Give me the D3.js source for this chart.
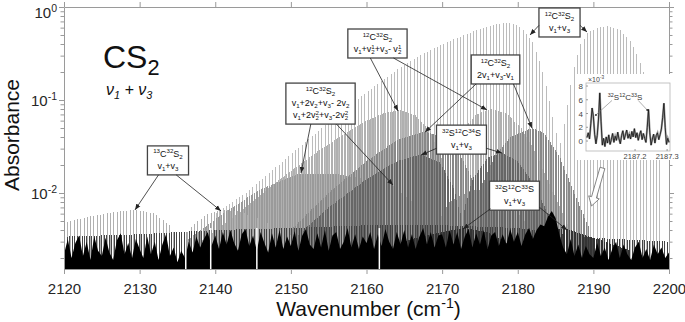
<!DOCTYPE html>
<html>
<head>
<meta charset="utf-8">
<script src="https://cdn.jsdelivr.net/npm/d3@7"></script>
<style>
  body { margin: 0; background: #fff; }
  text { font-family: "Liberation Sans", Arial, sans-serif; }
</style>
</head>
<body>
<svg id="chart" width="685" height="322"></svg>
<script>
// axis ticks
const xTicks = [2120, 2130, 2140, 2150, 2160, 2170, 2180, 2190, 2200];
const yMajor = [1e-2, 1e-1, 1];
const yExp = ["-2", "-1", "0"];
const yMinor = [2e-3, 3e-3, 4e-3, 5e-3, 6e-3, 7e-3, 8e-3, 9e-3,
                2e-2, 3e-2, 4e-2, 5e-2, 6e-2, 7e-2, 8e-2, 9e-2,
                2e-1, 3e-1, 4e-1, 5e-1, 6e-1, 7e-1, 8e-1, 9e-1];

// stick bands: [origin, line spacing] in cm-1, envelopes [wavenumber, absorbance]
const mainBand = [2185.5, 0.436];
const mainP = [[2140, 0.006], [2144, 0.01], [2147, 0.016], [2150, 0.026], [2153, 0.042], [2156, 0.068], [2159, 0.105],
               [2162, 0.16], [2165, 0.24], [2168, 0.33], [2171, 0.43], [2174, 0.54], [2177, 0.65], [2179, 0.68],
               [2180.5, 0.6], [2182, 0.42], [2183.2, 0.22], [2184.3, 0.09], [2185.3, 0.035]];
const mainR = [[2185.6, 0.03], [2186.5, 0.08], [2187.3, 0.2], [2188.2, 0.38], [2189.2, 0.52], [2190.5, 0.6], [2192, 0.62],
               [2193.5, 0.57], [2195, 0.42], [2196, 0.28], [2197, 0.16], [2198, 0.07], [2198.8, 0.03], [2199.2, 0.01]];

const hot1Band = [2170.8, 0.218]; // v1+v2+v3-v2
const hot1P = [[2138, 0.003], [2143, 0.006], [2148, 0.013], [2153, 0.026], [2157, 0.043], [2160, 0.06], [2162.5, 0.073],
               [2164.5, 0.078], [2166.5, 0.068], [2168.5, 0.045], [2170.3, 0.02]];
const hot1R = [[2171.2, 0.02], [2172.5, 0.045], [2174.5, 0.07], [2176.5, 0.08], [2178.5, 0.072], [2180.5, 0.05],
               [2182.5, 0.026], [2184.5, 0.011], [2187, 0.004]];

const hot3Band = [2168.3, 0.218]; // v1+2v2+v3-2v2
const hot3P = [[2136, 0.003], [2141, 0.006], [2146, 0.011], [2151, 0.016], [2156, 0.016], [2160, 0.014], [2163.5, 0.012],
               [2166, 0.008], [2167.8, 0.004]];
const hot3R = [[2168.8, 0.004], [2171, 0.008], [2174, 0.011], [2177, 0.01], [2180, 0.006], [2183, 0.003]];

const c13Band = [2135.3, 0.436]; // 13C32S2
const c13P = [[2120, 0.0048], [2123, 0.0055], [2126.5, 0.0062], [2129.4, 0.0066], [2132, 0.006], [2134, 0.0045], [2135, 0.003]];
const c13R = [[2135.6, 0.003], [2137, 0.0045], [2139, 0.006], [2140.8, 0.0066], [2143, 0.0064], [2146, 0.0052], [2150, 0.0035]];

const hot2Band = [2174.8, 0.218]; // 2v1+v3-v1
const hot2P = [[2150, 0.004], [2155, 0.01], [2160, 0.022], [2164, 0.037], [2167.7, 0.046], [2170, 0.04], [2172.5, 0.025], [2174.4, 0.012]];
const hot2R = [[2175.2, 0.012], [2177, 0.025], [2179, 0.04], [2181.9, 0.05], [2183.5, 0.044], [2185.5, 0.025], [2187.5, 0.01], [2189.5, 0.004]];

const s34Band = [2172.6, 0.212]; // 32S12C34S
const s34P = [[2150, 0.003], [2155, 0.007], [2160, 0.014], [2164, 0.022], [2167.2, 0.026], [2169.8, 0.021], [2171.6, 0.011], [2172.4, 0.006]];
const s34R = [[2172.8, 0.006], [2174, 0.014], [2176, 0.024], [2177.9, 0.027], [2180, 0.022], [2182, 0.013], [2184, 0.006], [2186, 0.003]];

const s33Band = [2179.6, 0.21]; // 32S12C33S
const s33P = [[2160, 0.0022], [2166, 0.0032], [2170, 0.0038], [2172.8, 0.0042], [2176, 0.0038], [2178.6, 0.0029], [2179.4, 0.0022]];
const s33R = [[2179.8, 0.0022], [2181, 0.0031], [2183.5, 0.004], [2186.5, 0.0041], [2190, 0.0033], [2195, 0.0024]];

// weak dark lines above the floor
const weakBand = [2160, 0.33];
const weakP = [[2120, 0.0034], [2130, 0.0036], [2140, 0.004], [2150, 0.0042], [2159.9, 0.0045]];
const weakR = [[2160, 0.0045], [2170, 0.0045], [2180, 0.0042], [2190, 0.0033], [2200, 0.003]];

// noise floor (x 10^-3) every 0.5 cm-1 from 2120 to 2200
const floorStart = 2120, floorStep = 0.5;
const floorVals = [
  2.2, 3.2, 2.0, 2.9, 3.5, 2.1, 3.0, 1.9, 3.4, 2.4, 2.1, 3.3, 2.3, 1.9, 3.1, 3.7, 2.2, 2.9, 2.0, 3.2,
  2.5, 2.0, 3.4, 2.2, 3.0, 1.9, 2.8, 3.6, 2.1, 2.6, 1.8, 2.4, 2.0, 3.0, 2.3, 3.4, 2.6, 3.2, 3.8, 2.7,
  3.5, 2.5, 3.8, 2.8, 4.0, 2.9, 2.4, 3.6, 4.1, 2.7, 3.5, 2.4, 3.8, 2.9, 2.3, 3.7, 2.6, 4.0, 2.5, 3.4,
  2.7, 3.9, 2.4, 3.5, 4.1, 2.8, 2.5, 3.7, 2.6, 4.0, 2.4, 3.5, 3.8, 2.5, 3.0, 4.2, 2.6, 3.6, 2.5, 3.4,
  2.9, 3.8, 2.5, 3.6, 2.7, 4.1, 3.0, 2.5, 3.8, 2.8, 4.0, 2.6, 3.6, 2.5, 3.4, 4.2, 2.8, 3.8, 2.6, 3.5,
  3.6, 2.6, 4.0, 2.8, 3.8, 2.5, 3.4, 4.1, 2.6, 3.7, 2.8, 4.0, 2.5, 3.5, 3.8, 2.7, 3.6, 2.8, 4.1, 3.0,
  3.8, 2.7, 3.6, 4.2, 3.2, 4.0, 4.6, 4.4, 5.6, 6.4, 5.4, 3.6, 2.6, 2.2, 3.2, 2.1, 2.8, 2.0, 2.7, 2.2,
  2.0, 2.9, 2.1, 2.6, 1.9, 2.5, 3.0, 2.0, 2.8, 2.2, 1.9, 2.6, 3.0, 2.0, 2.5, 1.9, 2.8, 2.2, 2.6, 2.0,
  2.3
];
// white gaps in the record
const gaps = [2136.1, 2139.4, 2145.5, 2161.7];

// inset: 32S12C33S lines near 2187.2 (x 10^-3)
const insetStart = 2187.05, insetStep = 0.004;
const insetVals = [
  0.5, 1.2, 0.3, 2.5, 4.8, 3.6, 1.0, -0.4, 0.8, 3.2, 7.0, 2.8, -0.6, 0.4, -0.8, 0.6, -0.3, 0.9, -0.5, 0.2,
  1.1, -0.2, 0.7, 0.1, 1.3, 0.3, -0.4, 0.8, 1.5, 0.2, 0.9, 1.6, 0.4, 1.0, 0.3, 1.4, 0.6, 1.8, 0.5, 1.2,
  0.1, 0.9, 1.5, 0.2, 1.1, 0.4, -0.2, 2.0, 4.6, 1.2, -0.6, 0.3, 1.0, -0.3, 0.8, 1.2, 0.2, 0.9, 1.7, 3.4,
  5.5, 2.0, -0.5, 0.4, -0.2
];
const insetXTicks = [2187.2, 2187.3];
const insetYTicks = [0, 2, 4, 6, 8];

// annotation boxes: text, [centre wavenumber, absorbance at top edge], arrow tails (box fractions), arrow heads
const noteText = [
  ["^{13}C^{32}S_{2}", "v_{1}+v_{3}"],
  ["^{12}C^{32}S_{2}", "v_{1}+2v_{2}+v_{3}- 2v_{2}", "v_{1}+2v_{2}^{2}+v_{3}-2v_{2}^{2}"],
  ["^{12}C^{32}S_{2}", "v_{1}+v_{2}^{1}+v_{3}- v_{2}^{1}"],
  ["^{12}C^{32}S_{2}", "2v_{1}+v_{3}-v_{1}"],
  ["^{32}S^{12}C^{34}S", "v_{1}+v_{3}"],
  ["^{32}S^{12}C^{33}S", "v_{1}+v_{3}"],
  ["^{12}C^{32}S_{2}", "v_{1}+v_{3}"]
];
const noteBox = [[2133.75, 0.0321], [2153.92, 0.152], [2161.45, 0.58], [2177.06, 0.305],
                 [2172.56, 0.0537], [2179.57, 0.0134], [2185.52, 0.976]];
const noteTails = [[[0.27, 1], [0.7, 1]], [[0.36, 1], [0.73, 1]], [[0.38, 1], [0.77, 1]], [[0.1, 1], [0.87, 1]],
                   [[0, 0.8], [1, 0.8]], [[0.02, 0.95], [1, 0.9]], [[0, 0.6], [1, 0.6]]];
const noteHeads = [[[2129.39, 0.00658], [2140.76, 0.00642]], [[2151.34, 0.0164], [2163.5, 0.0122]],
                   [[2164.17, 0.0762], [2175.93, 0.0782]], [[2167.74, 0.0452], [2181.88, 0.0499]],
                   [[2167.21, 0.0256], [2177.92, 0.0269]], [[2172.76, 0.0041], [2186.51, 0.004]],
                   [[2181.62, 0.5], [2189.16, 0.538]]];
// hollow arrow towards the inset region: [wavenumber, absorbance] tail and head
const hollowArrow = [[2191.2, 0.0186], [2189.75, 0.00725]];

const svg = d3.select("#chart");
const margin = { top: 7, right: 16, bottom: 53, left: 64 };
const width = +svg.attr("width") - margin.left - margin.right;
const height = +svg.attr("height") - margin.top - margin.bottom;
const g = svg.append("g").attr("transform", `translate(${margin.left},${margin.top})`);
const axisColor = "#9a9a9a";
const labelColor = "#262626";

const x = d3.scaleLinear().domain([2120, 2200]).range([0, width]);
const y = d3.scaleLog().domain([0.001524, 1]).range([height, 0]);

svg.append("defs").append("clipPath").attr("id", "plotclip")
  .append("rect").attr("width", width).attr("height", height);
const marker = svg.select("defs").append("marker")
  .attr("id", "ah").attr("viewBox", "0 0 10 10").attr("refX", 10).attr("refY", 5)
  .attr("markerWidth", 6).attr("markerHeight", 6).attr("markerUnits", "userSpaceOnUse")
  .attr("orient", "auto");
marker.append("path").attr("d", "M0,1L10,5L0,9Z").attr("fill", "#222");

// log-linear lookup in an envelope
function envAt(env, w) {
  if (w < env[0][0] || w > env[env.length - 1][0]) return null;
  for (let i = 1; i < env.length; i++) {
    if (w <= env[i][0]) {
      const t = (w - env[i - 1][0]) / (env[i][0] - env[i - 1][0]);
      return Math.pow(10, Math.log10(env[i - 1][1]) * (1 - t) + Math.log10(env[i][1]) * t);
    }
  }
  return null;
}

const bands = [
  { color: "#bcbcbc", b: mainBand, p: mainP, r: mainR },
  { color: "#b0b0b0", b: hot1Band, p: hot1P, r: hot1R },
  { color: "#9a9a9a", b: hot3Band, p: hot3P, r: hot3R },
  { color: "#b0b0b0", b: c13Band, p: c13P, r: c13R },
  { color: "#888888", b: hot2Band, p: hot2P, r: hot2R },
  { color: "#666666", b: s34Band, p: s34P, r: s34R },
  { color: "#444444", b: weakBand, p: weakP, r: weakR },
  { color: "#333333", b: s33Band, p: s33P, r: s33R }
];

const spec = g.append("g").attr("clip-path", "url(#plotclip)");

bands.forEach(band => {
  const [origin, step] = band.b;
  let d = "";
  const stick = (w, env) => {
    const a = envAt(env, w);
    if (a) d += `M${x(w).toFixed(2)},${height}V${y(a).toFixed(2)}`;
  };
  for (let k = 1; origin - step * k >= band.p[0][0]; k++) stick(origin - step * k, band.p);
  for (let k = 0; origin + step * (k + 0.5) <= band.r[band.r.length - 1][0]; k++) stick(origin + step * (k + 0.5), band.r);
  spec.append("path").attr("d", d).attr("stroke", band.color).attr("stroke-width", 1)
    .attr("fill", "none").attr("shape-rendering", "crispEdges");
});

// noise floor
const floorData = floorVals.map((v, i) => [floorStart + i * floorStep, v * 1e-3]);
spec.append("path")
  .datum(floorData)
  .attr("d", d3.area().x(d => x(d[0])).y0(height).y1(d => y(d[1])))
  .attr("fill", "#000");

spec.selectAll(".gap").data(gaps).enter().append("line")
  .attr("x1", d => x(d)).attr("x2", d => x(d))
  .attr("y1", height).attr("y2", y(0.0042))
  .attr("stroke", "#fff").attr("stroke-width", 1.5);

// rich text: ^{sup} and _{sub}
function rich(sel, str, fs) {
  const parts = str.match(/[\^_]\{[^}]*\}|[^\^_]+/g);
  let level = 0, prevType = "", prevLen = 0;
  parts.forEach(p => {
    let type = "n", txt = p;
    if (p[0] === "^") { type = "sup"; txt = p.slice(2, -1); }
    else if (p[0] === "_") { type = "sub"; txt = p.slice(2, -1); }
    const target = type === "sup" ? -0.38 * fs : type === "sub" ? 0.22 * fs : 0;
    const t = sel.append("tspan").attr("dy", target - level)
      .attr("font-size", type === "n" ? fs : fs * 0.68).text(txt);
    if (type === "sup" && prevType === "sub") t.attr("dx", -prevLen);
    if (type === "sub") prevLen = t.node().getComputedTextLength();
    level = target; prevType = type;
  });
}

// axes
const gx = g.append("g").attr("transform", `translate(0,${height})`)
  .call(d3.axisBottom(x).tickValues(xTicks).tickSize(5).tickSizeOuter(0).tickPadding(9).tickFormat(d3.format("d")));
const gxt = g.append("g")
  .call(d3.axisTop(x).tickValues(xTicks).tickSize(5).tickSizeOuter(0).tickFormat(""));
const yAll = yMinor.concat(yMajor);
const gy = g.append("g")
  .call(d3.axisLeft(y).tickValues(yAll).tickSize(5).tickSizeOuter(0).tickFormat(""));
const gyr = g.append("g").attr("transform", `translate(${width},0)`)
  .call(d3.axisRight(y).tickValues(yAll).tickSize(5).tickSizeOuter(0).tickFormat(""));
gy.selectAll(".tick line").attr("x2", d => yMajor.includes(d) ? -5 : -3.5);
gyr.selectAll(".tick line").attr("x2", d => yMajor.includes(d) ? 5 : 3.5);
[gx, gxt, gy, gyr].forEach(a => {
  a.select(".domain").attr("stroke", axisColor);
  a.selectAll(".tick line").attr("stroke", axisColor);
});
gx.attr("font-family", "Liberation Sans, Arial, sans-serif").attr("font-size", 15);
gx.selectAll(".tick text").attr("fill", labelColor);

yMajor.forEach((v, i) => {
  const t = g.append("text").attr("x", -7).attr("y", Math.max(y(v), 5) + 6)
    .attr("text-anchor", "end").attr("fill", labelColor).attr("font-size", 15);
  t.append("tspan").text("10");
  t.append("tspan").attr("dy", -6).attr("font-size", 10.5).text(yExp[i]);
});

const xl = svg.append("text").attr("x", margin.left + width / 2 + 2).attr("y", 316)
  .attr("text-anchor", "middle").attr("fill", "#111").attr("font-size", 21);
rich(xl, "Wavenumber (cm^{-1})", 21);
svg.append("text").attr("transform", `translate(19,${margin.top + height / 2 - 3}) rotate(-90)`)
  .attr("text-anchor", "middle").attr("fill", "#111").attr("font-size", 21).text("Absorbance");

// molecule title
const title = svg.append("text").attr("x", 103).attr("y", 68).attr("fill", "#111").attr("font-size", 32);
rich(title, "CS_{2}", 32);
const modes = svg.append("text").attr("x", 106).attr("y", 95).attr("fill", "#111")
  .attr("font-family", "DejaVu Serif, serif").attr("font-style", "italic").attr("font-size", 16);
rich(modes, "ν_{1} + ν_{3}", 16);

// inset
const inset = { left: 586, right: 670, top: 83, bottom: 151 };
svg.append("rect").attr("x", 577).attr("y", 74).attr("width", 106).attr("height", 86).attr("fill", "#fff");
const ix = d3.scaleLinear().domain([2187.047, 2187.309]).range([inset.left, inset.right]);
const iy = d3.scaleLinear().domain([-1.45, 8.44]).range([inset.bottom, inset.top]);
const ig = svg.append("g");
ig.append("rect").attr("x", inset.left).attr("y", inset.top)
  .attr("width", inset.right - inset.left).attr("height", inset.bottom - inset.top)
  .attr("fill", "none").attr("stroke", "#b5b5b5").attr("stroke-width", 0.8);
const insetData = insetVals.map((v, i) => [insetStart + i * insetStep, v]);
const iline = d3.line().x(d => ix(d[0])).y(d => iy(d[1]));
ig.append("path").datum(insetData).attr("d", iline).attr("fill", "none").attr("stroke", "#9a9a9a").attr("stroke-width", 2);
ig.append("path").datum(insetData).attr("d", iline).attr("fill", "none").attr("stroke", "#111").attr("stroke-width", 0.8);
insetYTicks.forEach(v => {
  ig.append("line").attr("x1", inset.left).attr("x2", inset.left + 2).attr("y1", iy(v)).attr("y2", iy(v)).attr("stroke", "#999");
  ig.append("text").attr("x", inset.left - 3).attr("y", iy(v) + 3).attr("text-anchor", "end")
    .attr("font-size", 8).attr("fill", "#444").text(v);
});
insetXTicks.forEach(v => {
  ig.append("line").attr("x1", ix(v)).attr("x2", ix(v)).attr("y1", inset.bottom).attr("y2", inset.bottom - 2).attr("stroke", "#999");
  ig.append("text").attr("x", ix(v)).attr("y", inset.bottom + 8).attr("text-anchor", "middle")
    .attr("font-size", 7.5).attr("fill", "#444").text(v.toFixed(1));
});
const expT = ig.append("text").attr("x", inset.left + 2).attr("y", inset.top - 1).attr("font-size", 7).attr("fill", "#444");
rich(expT, "×10^{-3}", 7);
const insetLbl = ig.append("text").attr("x", ix(2187.169)).attr("y", iy(6.0)).attr("text-anchor", "middle")
  .attr("font-size", 8).attr("fill", "#333");
rich(insetLbl, "^{32}S^{12}C^{33}S", 8);
[[[2187.128, 5.9], [2187.078, 3.8]], [[2187.21, 5.9], [2187.238, 4.5]]].forEach(([a, b]) => {
  ig.append("line").attr("x1", ix(a[0])).attr("y1", iy(a[1])).attr("x2", ix(b[0])).attr("y2", iy(b[1]))
    .attr("stroke", "#777").attr("stroke-width", 0.6);
  ig.append("circle").attr("cx", ix(b[0])).attr("cy", iy(b[1])).attr("r", 1).attr("fill", "#333");
});

// hollow arrow
(() => {
  const [t, h] = hollowArrow.map(p => [x(p[0]) + margin.left, y(p[1]) + margin.top]);
  const dx = h[0] - t[0], dy = h[1] - t[1], len = Math.hypot(dx, dy);
  const ux = dx / len, uy = dy / len, nx = -uy, ny = ux;
  const sw = 2.5, hw = 5.5, hl = 9;
  const bx = h[0] - ux * hl, by = h[1] - uy * hl;
  const pts = [
    [t[0] + nx * sw, t[1] + ny * sw], [bx + nx * sw, by + ny * sw], [bx + nx * hw, by + ny * hw], h,
    [bx - nx * hw, by - ny * hw], [bx - nx * sw, by - ny * sw], [t[0] - nx * sw, t[1] - ny * sw]
  ];
  svg.append("polygon").attr("points", pts.map(p => p.join(",")).join(" "))
    .attr("fill", "#fff").attr("stroke", "#777").attr("stroke-width", 0.9);
})();

// annotation boxes
const ng = g.append("g");
noteText.forEach((lines, i) => {
  const box = ng.append("g");
  const texts = lines.map(s => {
    const t = box.append("text").attr("text-anchor", "middle")
      .attr("font-family", "Lato, 'Open Sans', sans-serif").attr("font-size", 9).attr("fill", "#111");
    rich(t, s, 9);
    return t;
  });
  const w = d3.max(texts, t => t.node().getBBox().width) + 11;
  const h = lines.length * 12 + 5;
  const cx = x(noteBox[i][0]), top = y(noteBox[i][1]);
  const left = cx - w / 2;
  box.insert("rect", "text").attr("x", left).attr("y", top).attr("width", w).attr("height", h)
    .attr("fill", "#fff").attr("stroke", "#444").attr("stroke-width", 1.3);
  texts.forEach((t, j) => t.attr("x", cx).attr("y", top + 11 + j * 12));
  noteTails[i].forEach((tl, j) => {
    const hd = noteHeads[i][j];
    ng.append("line")
      .attr("x1", left + tl[0] * w).attr("y1", top + tl[1] * h)
      .attr("x2", x(hd[0])).attr("y2", y(hd[1]))
      .attr("stroke", "#222").attr("stroke-width", 0.8).attr("marker-end", "url(#ah)");
  });
});
</script>
</body>
</html>
